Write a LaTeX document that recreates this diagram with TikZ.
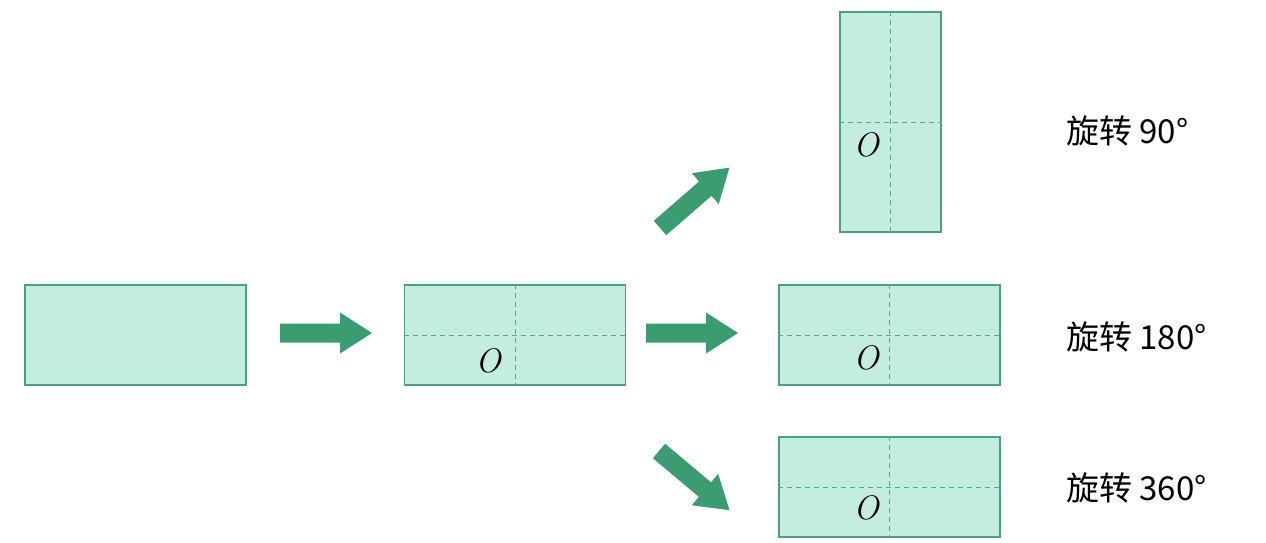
\documentclass[tikz,border=0pt]{standalone}
\usepackage{fontspec}
\newfontfamily\cjk{Noto Sans CJK SC}
\definecolor{paper}{RGB}{195,237,222}
\definecolor{edge}{RGB}{78,158,128}
\definecolor{arrowgreen}{RGB}{58,156,112}
\definecolor{dashgreen}{RGB}{85,168,138}
\tikzset{
  card/.style={draw=edge, line width=1.3pt, fill=paper, inner sep=0pt},
  wide/.style={card, minimum width=221pt, minimum height=100pt},
  tall/.style={card, minimum width=101pt, minimum height=220pt},
  fold/.style={draw=dashgreen, line width=0.9pt, dash pattern=on 5pt off 4pt},
  olabel/.style={font=\fontsize{34}{34}\selectfont\itshape, inner sep=0pt},
  rotlabel/.style={font=\cjk\fontsize{33}{35}\selectfont, anchor=west, inner sep=0pt},
  blockarrow/.style={fill=arrowgreen, draw=none}
}
\newcommand\bigarrow[2]{%
  \begin{scope}[shift={#1}, rotate=#2]
    \fill[blockarrow] (0,-9.5) -- (60,-9.5) -- (60,-20.5) -- (92,0) -- (60,20.5) -- (60,9.5) -- (0,9.5) -- cycle;
  \end{scope}}
\begin{document}
\begin{tikzpicture}[x=1pt, y=-1pt]
\useasboundingbox (0,0) rectangle (1266,542);

% plain card
\node[wide] (r0) at (135.5,335) {};

% folded card
\node[wide] (r1) at (515,335) {};
\draw[fold] (r1.north) -- (r1.south);
\draw[fold] (r1.west) -- (r1.east);
\node[olabel] (o1) at (488,361) {O};

% rotated 90
\node[tall] (r90) at (890.5,122) {};
\draw[fold] (r90.north) -- (r90.south);
\draw[fold] (r90.west) -- (r90.east);
\node[olabel] (o90) at (866,145) {O};

% rotated 180
\node[wide] (r180) at (889.5,335) {};
\draw[fold] (r180.north) -- (r180.south);
\draw[fold] (r180.west) -- (r180.east);
\node[olabel] (o180) at (866,358) {O};

% rotated 360
\node[wide] (r360) at (889.5,487) {};
\draw[fold] (r360.north) -- (r360.south);
\draw[fold] (r360.west) -- (r360.east);
\node[olabel] (o360) at (866,508) {O};

% arrows
\bigarrow{(280,333)}{0}
\bigarrow{(646,333)}{0}
\bigarrow{(660,228)}{41}
\bigarrow{(659,451)}{-40}

% labels
\node[rotlabel] (l90) at (1066,131) {旋转 90°};
\node[rotlabel] (l180) at (1066,337) {旋转 180°};
\node[rotlabel] (l360) at (1066,488) {旋转 360°};
\end{tikzpicture}
\end{document}
